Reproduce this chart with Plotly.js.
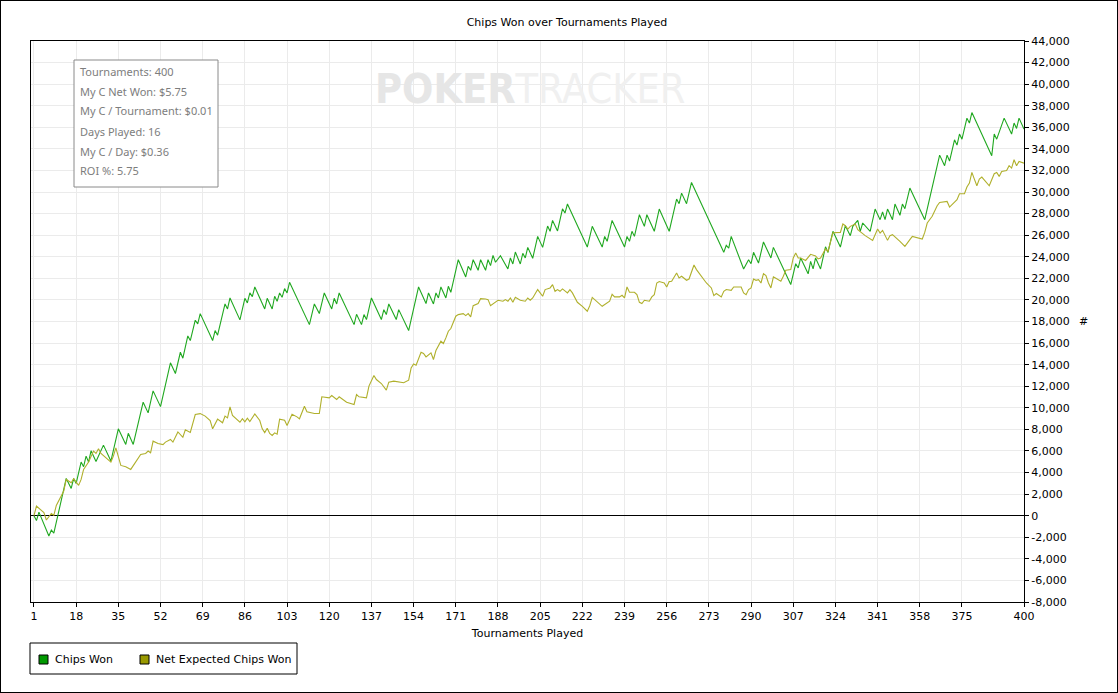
<!DOCTYPE html>
<html>
<head>
<meta charset="utf-8">
<script src="https://cdn.plot.ly/plotly-3.0.1.min.js"></script>
<style>
  html, body { margin: 0; padding: 0; background: #ffffff; }
  #chart { width: 1116px; height: 691px; border: 1px solid #000000; }
</style>
</head>
<body>
<div id="chart"></div>
<script>
// ---------------- DATA ----------------
const chartTitle = "Chips Won over Tournaments Played";
const xAxisTitle = "Tournaments Played";
const yAxisTitle = "#";
const seriesNames = ["Chips Won", "Net Expected Chips Won"];

// Chips Won: turning points of the curve (tournament #, chips)
const chipsWonTournament = [1,2,3,7,8,9,14,16,17,18,20,21,22,23,24,25,26,29,32,35,38,39,41,45,47,49,52,56,58,60,61,63,64,66,67,68,73,74,75,78,79,80,84,86,87,88,89,90,94,95,97,98,99,100,101,102,103,104,112,114,116,118,121,122,123,124,130,131,133,134,135,137,141,142,143,144,147,148,152,156,159,160,162,163,164,165,167,168,169,172,175,176,177,178,180,181,183,184,185,186,187,189,192,193,194,195,197,198,199,200,202,204,206,208,209,210,212,214,215,216,224,226,230,231,232,234,239,240,241,242,243,245,247,248,251,253,257,260,261,262,264,266,279,280,281,282,287,289,290,291,293,295,298,299,306,308,309,310,313,314,315,316,318,320,321,323,326,328,330,331,333,334,335,338,340,342,343,344,345,347,348,350,351,352,354,360,366,368,369,370,372,373,374,375,377,378,379,387,388,389,392,395,396,397,398,400];
const chipsWon = [0,-450,330,-1890,-1330,-1610,3450,2530,3450,2990,4970,4540,5520,4970,6020,5580,5030,6540,5060,8050,6600,7640,6600,10520,9530,11570,10110,14170,13180,15150,14600,16660,16230,18120,17780,18730,16230,17160,16730,19630,19160,20180,18150,20150,19720,20650,20310,21200,19160,20150,19160,20340,19870,20650,20240,21050,20650,21630,17710,19630,18730,20650,19160,20150,19630,20650,17710,18670,17710,18640,18180,20180,18180,19100,18640,19630,18180,19100,17160,21200,19660,20650,19630,20650,20180,21200,20180,21260,20710,23730,22130,23120,22750,23730,22750,23730,22750,23730,23180,24130,23490,24100,22870,23890,23330,24440,23330,24320,23890,24870,23860,25890,24870,26850,26360,27370,26390,28450,28050,28890,24900,26820,24900,25890,25430,27370,24900,25890,25430,26360,25890,27900,26820,27900,26360,28420,26360,29350,28920,29900,28920,30890,24410,25060,24810,25890,22870,23730,23360,24410,23420,25370,23890,24870,21420,23360,22960,23890,22420,23580,22880,23890,22870,24920,24400,26360,24900,26880,25950,26820,27380,26360,27130,26360,28420,27440,28150,27440,28420,27440,28890,27840,28890,28460,30370,27440,33420,32440,33420,32870,34840,34350,35370,34900,36850,36390,37370,33360,35370,34900,36850,35370,36390,35890,36850,35830];

// Net Expected Chips Won (tournament #, chips)
const netExpTournament = [1,2,5,6,8,9,10,13,14,16,17,19,20,21,23,25,26,27,28,30,32,33,34,36,38,40,44,46,47,48,49,51,53,54,56,57,59,61,62,64,66,68,70,72,73,75,77,78,79,80,81,84,85,86,87,88,90,92,93,94,95,96,97,98,99,100,102,103,105,107,108,110,111,114,116,117,120,121,123,124,125,127,130,131,132,135,136,138,139,141,143,144,146,148,150,152,153,154,155,157,158,159,161,162,163,165,166,167,168,169,171,172,174,175,176,177,178,180,181,183,184,185,188,190,191,192,193,194,195,197,199,200,201,202,204,205,206,207,209,210,211,212,213,214,216,217,218,220,222,224,225,226,228,230,233,234,235,237,238,239,240,241,243,244,245,246,247,249,250,251,252,253,255,256,257,258,260,261,262,264,265,267,268,270,271,272,274,275,276,278,279,280,282,283,286,287,288,289,290,291,292,293,294,295,296,297,298,299,300,302,303,304,306,307,308,309,310,312,314,316,317,318,320,321,323,326,327,328,329,330,332,333,336,339,341,342,343,345,346,347,350,352,354,355,359,360,361,363,365,366,369,370,373,374,376,377,378,379,380,381,382,383,386,388,389,390,391,393,394,395,396,397,398,400];
const netExpected = [0,890,280,-400,210,30,950,2280,3360,3050,3420,2810,3360,4290,4970,5990,5770,6200,5770,5340,4970,5520,6290,4660,4540,4290,5680,5770,5990,5830,6910,6700,6590,6820,7070,6820,7760,7270,7960,7710,9380,9460,9230,8810,8050,8950,8610,9230,9070,10080,9300,8660,9000,8700,9040,8730,9430,8820,8050,7700,8100,7620,7440,7680,7560,8950,8850,8360,9410,9160,8980,10150,9630,9470,9470,11020,10920,11140,10770,11020,10830,10520,10310,11230,11020,10930,12010,12990,12620,12250,11640,12380,12470,12410,12320,12560,13700,14070,13950,15150,15030,14720,15090,14480,15310,16170,15960,16480,17100,17350,18490,18640,18730,18550,18730,18430,19470,19660,20120,20090,20030,19470,19970,19880,20030,19880,20180,19780,20250,19970,19880,20180,19970,20180,20960,20650,20340,20960,21110,21420,20800,20960,20800,21020,20650,20960,20650,19780,19410,18950,19470,20230,19780,19410,19880,20520,20280,20280,20430,20180,21200,20710,20710,20490,19780,19660,19970,19880,20280,20490,21570,21700,21570,21200,21700,21730,22500,22040,22190,21820,21940,23240,22810,22190,21820,21570,21110,20400,20590,20280,20800,20960,20890,21200,21200,20650,20490,20960,21110,21940,21820,21880,21570,22440,22250,21570,21110,22130,22000,21730,22190,22750,22810,23890,24350,23890,23890,23660,24230,24070,23800,23890,24720,24500,26230,26260,27040,26880,26570,26820,27040,26510,25960,25520,26570,26200,26450,25520,25960,26050,25430,24970,25590,25890,25650,26260,27130,27750,28730,29040,29130,28610,29290,29840,29840,30460,30830,31820,31200,30580,31200,31390,30580,31700,31820,31450,31910,32000,32440,32220,32990,32440,32840,32680];

// Axis ticks
const xTickVals = [1,18,35,52,69,86,103,120,137,154,171,188,205,222,239,256,273,290,307,324,341,358,375,400];
const xTickText = ["1","18","35","52","69","86","103","120","137","154","171","188","205","222","239","256","273","290","307","324","341","358","375","400"];
const yTickVals = [-8000,-6000,-4000,-2000,0,2000,4000,6000,8000,10000,12000,14000,16000,18000,20000,22000,24000,26000,28000,30000,32000,34000,36000,38000,40000,42000,44000];
const yTickText = ["-8,000","-6,000","-4,000","-2,000","0","2,000","4,000","6,000","8,000","10,000","12,000","14,000","16,000","18,000","20,000","22,000","24,000","26,000","28,000","30,000","32,000","34,000","36,000","38,000","40,000","42,000","44,000"];

// Summary box lines
const statLines = ["Tournaments: 400","My C Net Won: $5.75","My C / Tournament: $0.01","Days Played: 16","My C / Day: $0.36","ROI %: 5.75"];

// ---------------- STYLE / LAYOUT ----------------
const lineColors = ["#20a820", "#b0b02c"];
const legendColors = ["#009900", "#999900"];
const FONT = "DejaVu Sans, Verdana, sans-serif";

// plot area in page pixels (div starts at page pixel 1 because of the border)
const PX0 = 31, PX1 = 1024, PY0 = 41, PY1 = 602;
const px = x => (x - PX0) / (PX1 - PX0);
const py = y => (PY1 - y) / (PY1 - PY0);

const traces = [
  { x: chipsWonTournament, y: chipsWon, name: seriesNames[0], type: "scatter", mode: "lines",
    line: { color: lineColors[0], width: 1.1 }, showlegend: false, hoverinfo: "skip" },
  { x: netExpTournament, y: netExpected, name: seriesNames[1], type: "scatter", mode: "lines",
    line: { color: lineColors[1], width: 1.1 }, showlegend: false, hoverinfo: "skip" }
];

const shapes = [];
const annotations = [];

// summary box
shapes.push({ type: "rect", xref: "paper", yref: "paper", x0: px(74), x1: px(218), y0: py(187), y1: py(60),
  line: { color: "#8a8a8a", width: 1 }, fillcolor: "#ffffff", layer: "above" });
statLines.forEach((t, i) => {
  annotations.push({ xref: "paper", yref: "paper", x: px(78), y: py(71 + 20 * i), xanchor: "left", yanchor: "middle",
    text: t, showarrow: false, font: { family: "Noto Sans, Open Sans, sans-serif", size: 11, color: "#7d7d7d" } });
});

// watermark
annotations.push({ xref: "paper", yref: "paper", x: px(530), y: py(89), xanchor: "center", yanchor: "middle",
  text: '<b><span style="color:#e6e6e6">POKER</span></b><span style="color:#f0f0f0">TRACKER</span>',
  showarrow: false, font: { family: "DejaVu Sans Condensed, Liberation Sans Narrow, sans-serif", size: 41, color: "#ececec" } });

// '#' axis label (horizontal)
annotations.push({ xref: "paper", yref: "paper", x: px(1083), y: py(321), xanchor: "center", yanchor: "middle",
  text: yAxisTitle, showarrow: false, font: { family: FONT, size: 11, color: "#000000" } });

// legend box
shapes.push({ type: "rect", xref: "paper", yref: "paper", x0: px(30), x1: px(297), y0: py(674), y1: py(643),
  line: { color: "#000000", width: 1 }, fillcolor: "rgba(0,0,0,0)" });
const legendSymX = [39, 140];
const legendTextX = [53, 154];
seriesNames.forEach((name, i) => {
  shapes.push({ type: "rect", xref: "paper", yref: "paper", x0: px(legendSymX[i]), x1: px(legendSymX[i] + 9),
    y0: py(664), y1: py(655), line: { color: "#000000", width: 1 }, fillcolor: legendColors[i] });
  annotations.push({ xref: "paper", yref: "paper", x: px(legendTextX[i]), y: py(659.5), xanchor: "left", yanchor: "middle",
    text: name, showarrow: false, font: { family: FONT, size: 11, color: "#000000" } });
});

const layout = {
  width: 1116, height: 691,
  margin: { l: PX0 - 1, r: 1116 - (PX1 - 1), t: PY0 - 1, b: 691 - (PY1 - 1) },
  paper_bgcolor: "#ffffff", plot_bgcolor: "#ffffff",
  font: { family: FONT, size: 11, color: "#000000" },
  showlegend: false,
  title: { text: chartTitle, font: { family: FONT, size: 11, color: "#000000" },
    xref: "container", yref: "container", x: 566 / 1116, y: 1 - 21 / 691, xanchor: "center", yanchor: "middle" },
  xaxis: {
    range: [-0.2, 400], tickmode: "array", tickvals: xTickVals, ticktext: xTickText,
    ticks: "outside", ticklen: 4, tickcolor: "#000000", tickwidth: 1,
    showline: true, linecolor: "#000000", linewidth: 1, mirror: true,
    showgrid: true, gridcolor: "#ebebeb", gridwidth: 1, zeroline: false,
    tickfont: { family: FONT, size: 11, color: "#000000" },
    title: { text: xAxisTitle, font: { family: FONT, size: 11, color: "#000000" }, standoff: 7 }
  },
  yaxis: {
    side: "right", range: [-8000, 44000], tickmode: "array", tickvals: yTickVals, ticktext: yTickText,
    ticks: "outside", ticklen: 4, tickcolor: "#000000", tickwidth: 1,
    showline: true, linecolor: "#000000", linewidth: 1, mirror: true,
    showgrid: true, gridcolor: "#ebebeb", gridwidth: 1,
    zeroline: true, zerolinecolor: "#000000", zerolinewidth: 1,
    tickfont: { family: FONT, size: 11, color: "#000000" }
  },
  shapes: shapes,
  annotations: annotations,
  hovermode: false
};

Plotly.newPlot("chart", traces, layout, { staticPlot: true, displayModeBar: false });
</script>
</body>
</html>
